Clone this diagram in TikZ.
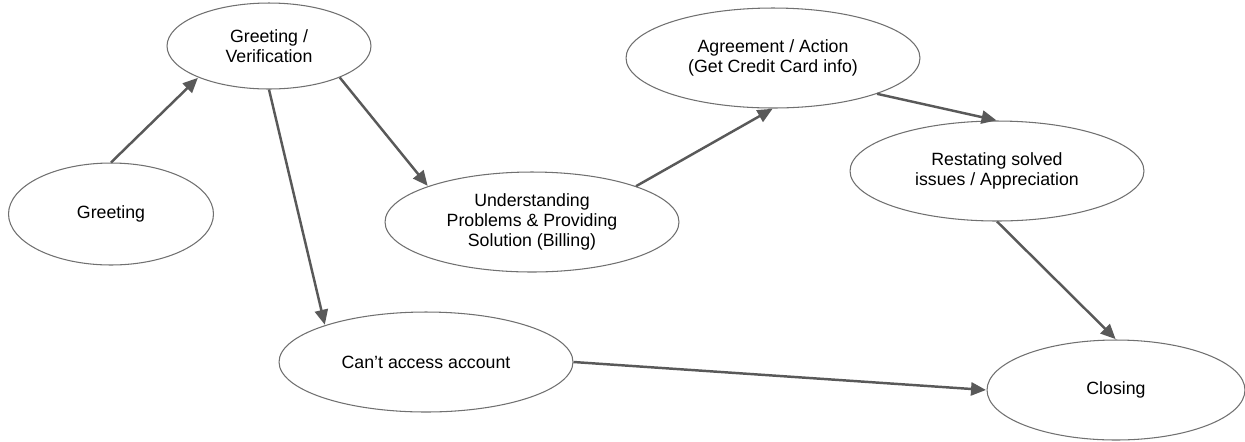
\documentclass[tikz,border=0pt]{standalone}
\usepackage{fontspec}
\setmainfont{Liberation Sans}
\usetikzlibrary{shapes.geometric,arrows.meta}
\definecolor{edgegray}{HTML}{595959}
\definecolor{linegray}{HTML}{707070}
\begin{document}
\begin{tikzpicture}[x=0.02cm,y=-0.02cm,
  state/.style={ellipse,draw=linegray,line width=0.6pt,fill=white,inner sep=0pt,
    align=center,font=\fontsize{10.1pt}{11.6pt}\selectfont},
  bigstate/.style={state,minimum width=5.88cm,minimum height=2.0cm},
  conn/.style={draw=edgegray,line width=1.4pt,
    -{Triangle[length=8.5pt,width=7.5pt]},shorten >=0.3pt}]
\useasboundingbox (0,0) rectangle (1245,441);
\node[state,minimum width=4.1cm,minimum height=2.04cm] (g) at (111,214) {Greeting};
\node[state,minimum width=4.08cm,minimum height=1.72cm] (v) at (269,46) {Greeting /\\Verification};
\node[bigstate] (u) at (532,222) {Understanding\\Problems \& Providing\\Solution (Billing)};
\node[bigstate] (a) at (773,58) {Agreement / Action\\(Get Credit Card info)};
\node[bigstate] (r) at (997,171) {Restating solved\\issues / Appreciation};
\node[bigstate] (c) at (426,362) {Can’t access account};
\node[state,minimum width=5.16cm,minimum height=2.0cm] (cl) at (1116,390) {Closing};
\draw[conn] (g.north) -- (v.204);
\draw[conn] (v.-24) -- (u.161);
\draw[conn] (v.south) -- (c.160);
\draw[conn] (u.19) -- (a.south);
\draw[conn] (a.-19) -- (r.north);
\draw[conn] (r.south) -- (cl.north);
\draw[conn] (c.east) -- (cl.west);
\end{tikzpicture}
\end{document}
